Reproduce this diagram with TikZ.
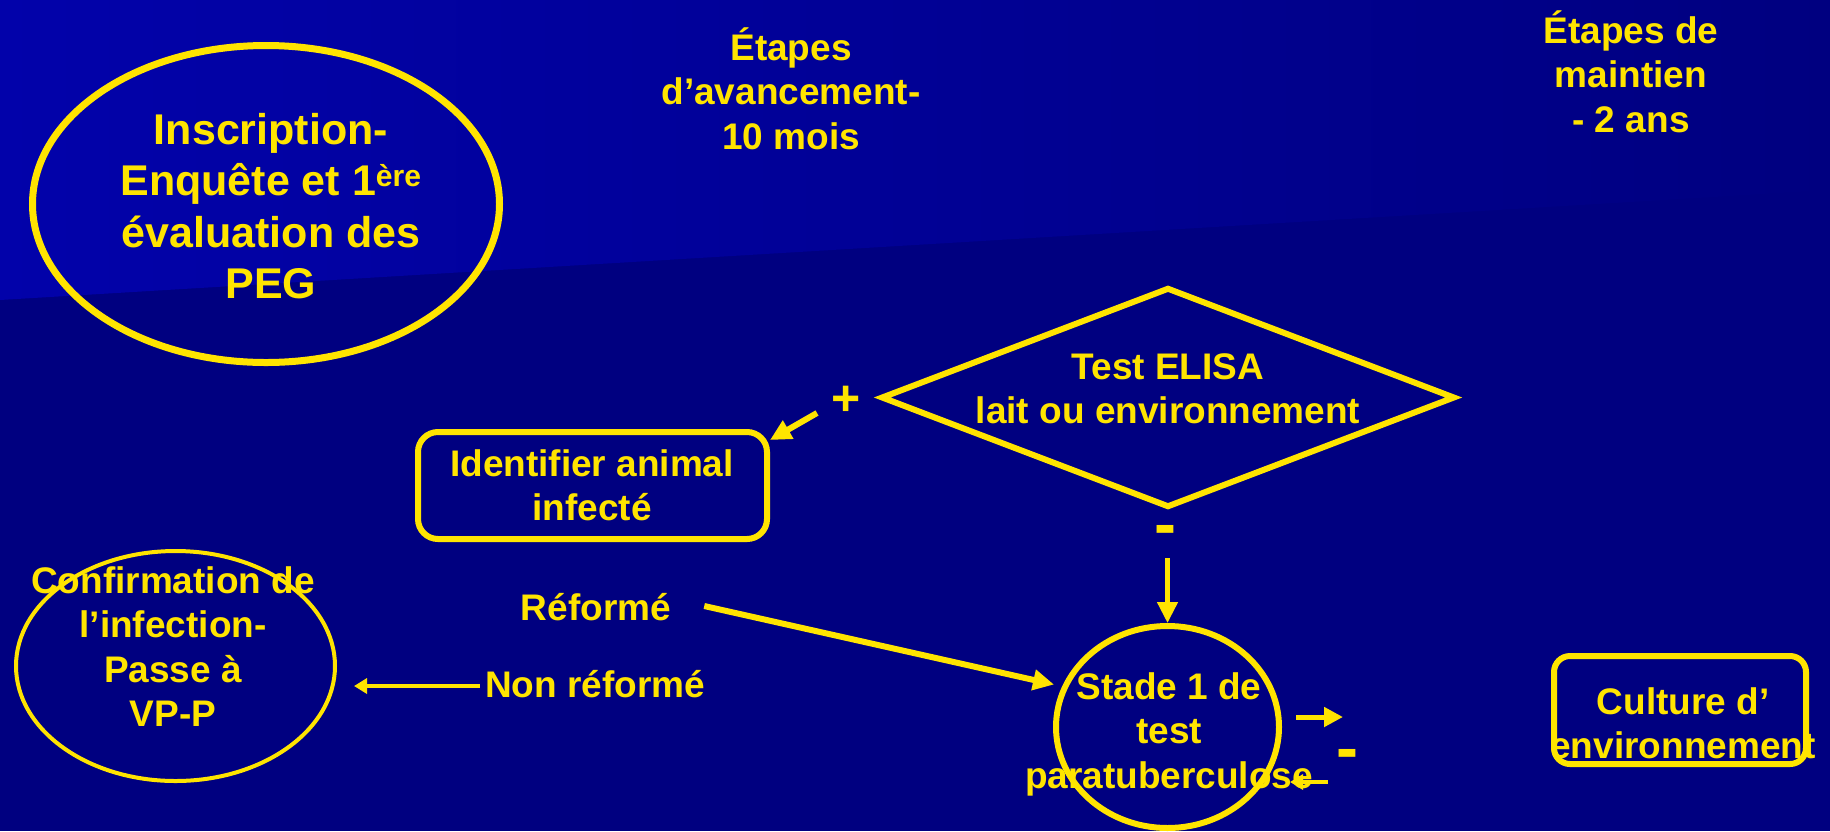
\documentclass[tikz,border=0pt]{standalone}
\usepackage{fontspec}
\setmainfont{Liberation Sans}
\usetikzlibrary{shapes.geometric,arrows.meta,calc}
\definecolor{bgnavy}{RGB}{0,0,128}
\definecolor{bgtop}{RGB}{2,2,170}
\definecolor{ylw}{RGB}{255,228,0}
\newcommand\mlines[1]{\begin{tabular}[t]{@{}c@{}}#1\end{tabular}}
\begin{document}
\begin{tikzpicture}[x=1pt,y=-1pt,
  txt/.style={text=ylw, inner sep=0pt, anchor=base, font=\bfseries\fontsize{37}{44.5}\selectfont},
  bigtxt/.style={txt, font=\bfseries\fontsize{43}{51.5}\selectfont},
  sign/.style={text=ylw, inner sep=0pt, anchor=base, font=\bfseries\fontsize{#1}{#1}\selectfont},
  shapeline/.style={draw=ylw, inner sep=0pt},
  oval/.style={shapeline, ellipse},
  rbox/.style={shapeline, rectangle, rounded corners=#1},
  arrow/.style={draw=ylw, line width=6pt, -{Triangle[length=21pt,width=20pt]}},
  arrowmid/.style={draw=ylw, line width=5pt, -{Triangle[length=19pt,width=19pt]}},
  arrowsmall/.style={draw=ylw, line width=4pt, -{Triangle[length=13pt,width=15pt]}},
  arrowthin/.style={draw=ylw, line width=4.5pt, -{Triangle[length=21pt,width=20pt]}},
]
\useasboundingbox (0,0) rectangle (1830,831);
\fill[bgnavy] (0,0) rectangle (1830,831);
\shade[left color=bgtop, right color=bgnavy] (0,0) -- (1830,0) -- (1830,190) -- (0,300) -- cycle;

% top-left ellipse
\node[oval, line width=7pt, minimum width=467pt, minimum height=317pt] (insc) at (266,204) {};
\node[bigtxt] (insctxt) at (271,144) {\mlines{Inscription-\\Enquête et 1\smash{\textsuperscript{ère}}\\évaluation des\\PEG}};

% headings
\node[txt] (avtxt) at (791,60) {\mlines{Étapes\\d’avancement-\\10 mois}};
\node[txt] (mttxt) at (1631,43) {\mlines{Étapes de\\maintien\\- 2 ans}};

% diamond
\node[shapeline, diamond, line width=6pt, minimum width=574pt, minimum height=220pt] (elisa) at (1168,397.5) {};
\node[txt] (elisatxt) at (1168,379) {\mlines{Test ELISA\\lait ou environnement}};

% signs
\node[sign=50] (plus) at (846,415) {+};
\node[sign=66] (minus1) at (1165,546) {-};
\node[sign=66] (minus2) at (1347,770) {-};

% identifier box
\node[rbox=20pt, line width=6pt, minimum width=349pt, minimum height=107pt] (idbox) at (592.5,485.5) {};
\node[txt] (idtxt) at (592,476) {\mlines{Identifier animal\\infecté}};

% stage 1 circle
\node[oval, line width=6pt, minimum width=223pt, minimum height=202pt] (circ) at (1167.5,727) {};
\node[txt] (circtxt) at (1169,699) {\mlines{Stade 1 de\\test\\paratuberculose}};

% left ellipse
\node[oval, line width=4pt, minimum width=319pt, minimum height=230pt] (conf) at (175.5,666) {};
\node[txt] (conftxt) at (173,593) {\mlines{Confirmation de\\l’infection-\\Passe à\\VP-P}};

% culture box
\node[rbox=16pt, line width=6pt, minimum width=252pt, minimum height=108pt] (cult) at (1680,710) {};
\node[txt] (culttxt) at (1683,714) {\mlines{Culture d’\\environnement}};

% labels
\node[txt] (ref) at (596,620) {Réformé};
\node[txt] (nonref) at (595,697) {Non réformé};

% connectors
\coordinate (plusA) at (817,413);
\draw[arrow] (plusA) -- ([shift={(0,11)}]idbox.north east);
\coordinate (vA) at (1167.5,558);
\draw[arrowthin] (vA) -- (circ.north);
\coordinate (refA) at ([shift={(33,-14)}]ref.base east);
\draw[arrow] (refA) -- ([shift={(-8,-2)}]circ.159);
\coordinate (nonA) at ([shift={(-5,-11)}]nonref.base west);
\draw[arrowsmall] (nonA) -- ($(nonA -| conf.east)+(17,0)$);
\coordinate (rA) at ([shift={(14,-10)}]circ.east);
\coordinate (rB) at (1343,717);
\draw[arrowmid] (rA) -- (rB);
\coordinate (lA) at (1328,782);
\draw[arrowsmall] (lA) -- ($(lA -| circ.east)+(8,0)$);
\end{tikzpicture}
\end{document}
